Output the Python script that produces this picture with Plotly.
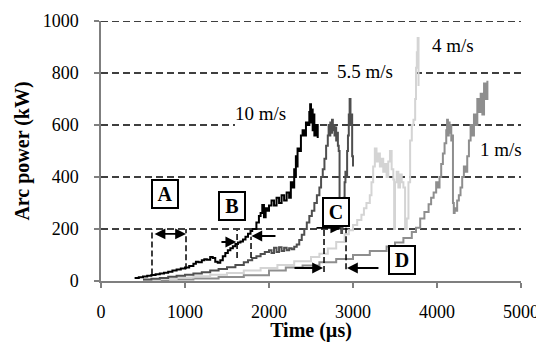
import plotly.graph_objects as go

# ---------------- data ----------------
t_10 = [400, 450, 500, 550, 600, 650, 700, 750, 800, 850, 900, 950, 1000, 1050, 1100, 1130, 1160, 1200,
        1230, 1260, 1300, 1330, 1360, 1390, 1420, 1450, 1480, 1510, 1540, 1570, 1600, 1630, 1660, 1690,
        1720, 1750, 1780, 1800, 1850, 1880, 1900, 1920, 1940, 1960, 1980, 2000, 2030, 2060, 2090, 2120,
        2150, 2180, 2210, 2240, 2260, 2280, 2300, 2310, 2320, 2330, 2340, 2360, 2380, 2400, 2420, 2440,
        2460, 2480, 2490, 2500, 2510, 2520, 2530, 2540, 2560, 2580]
p_10 = [12, 14, 17, 20, 23, 26, 29, 32, 36, 40, 44, 48, 52, 58, 66, 74, 72, 80,
        84, 82, 92, 88, 74, 70, 80, 95, 108, 118, 126, 134, 142, 148, 152, 160,
        170, 182, 192, 200, 225, 250, 262, 292, 245, 280, 270, 290, 310, 290, 320, 300,
        330, 310, 340, 320, 380, 360, 430, 400, 480, 440, 510, 500, 560, 580, 560, 610,
        600, 650, 680, 610, 660, 580, 640, 560, 600, 550]

t_55 = [500, 600, 700, 800, 900, 1000, 1100, 1200, 1300, 1400, 1500, 1600, 1700, 1750, 1800, 1850,
        1900, 1950, 2000, 2030, 2060, 2090, 2120, 2150, 2180, 2210, 2240, 2270, 2300, 2330, 2360, 2390,
        2420, 2450, 2480, 2510, 2540, 2570, 2600, 2620, 2640, 2660, 2680, 2700, 2710, 2720, 2730, 2740,
        2750, 2760, 2770, 2780, 2790, 2800, 2810, 2820, 2830, 2840, 2850, 2860, 2870, 2880, 2890, 2900,
        2910, 2920, 2930, 2940, 2950, 2960, 2970, 2980, 2990, 3000]
p_55 = [6, 9, 12, 16, 20, 24, 29, 34, 40, 46, 53, 62, 72, 80, 88, 95,
        104, 112, 118, 108, 128, 112, 130, 115, 128, 118, 126, 122, 132, 140, 158, 178,
        200, 225, 250, 270, 300, 330, 360, 400, 430, 470, 520, 560, 600, 560, 610, 570,
        620, 580, 600, 560, 590, 540, 570, 520, 500, 300, 200, 185, 210, 260, 320, 380,
        420, 400, 500, 560, 640, 700, 600, 640, 480, 440]

t_4 = [500, 700, 900, 1100, 1300, 1500, 1700, 1900, 2100, 2300, 2500, 2600, 2700, 2800, 2900, 2950,
       3000, 3050, 3100, 3130, 3160, 3200, 3220, 3240, 3260, 3280, 3300, 3320, 3340, 3360, 3380, 3400,
       3420, 3440, 3460, 3480, 3490, 3500, 3520, 3540, 3560, 3580, 3600, 3620, 3640, 3660, 3680, 3700,
       3720, 3740, 3750, 3760, 3770, 3780]
p_4 = [4, 8, 13, 18, 24, 31, 40, 50, 62, 76, 92, 105, 125, 150, 180, 195,
       215, 235, 255, 280, 300, 330, 380, 440, 510, 460, 490, 440, 470, 420, 450, 400,
       460, 500, 430, 390, 200, 380, 420, 360, 410, 380, 360, 200, 240, 380, 540, 600,
       620, 700, 820, 880, 935, 750]

t_1 = [500, 800, 1100, 1400, 1700, 2000, 2200, 2400, 2600, 2800, 3000, 3200, 3400, 3500, 3600, 3700,
       3750, 3800, 3850, 3900, 3930, 3960, 3990, 4010, 4030, 4050, 4070, 4090, 4110, 4120, 4130, 4140,
       4150, 4160, 4170, 4180, 4190, 4200, 4210, 4220, 4240, 4260, 4280, 4300, 4320, 4340, 4360, 4380,
       4400, 4420, 4440, 4460, 4480, 4500, 4520, 4540, 4560, 4580, 4600]
p_1 = [3, 6, 10, 15, 22, 40, 52, 60, 72, 85, 100, 115, 133, 148, 165, 188,
       205, 240, 265, 295, 320, 340, 380, 360, 400, 450, 490, 530, 580, 620, 560, 610,
       570, 600, 540, 560, 300, 262, 280, 270, 310, 330, 360, 400, 440, 420, 480, 540,
       600, 560, 640, 600, 700, 650, 720, 640, 760, 700, 770]

x_ticks = [0, 1000, 2000, 3000, 4000, 5000]
y_ticks = [0, 200, 400, 600, 800, 1000]

series = [
    ("1 m/s", t_1, p_1, "#8e8e8e"),
    ("4 m/s", t_4, p_4, "#d4d4d4"),
    ("5.5 m/s", t_55, p_55, "#4f4f4f"),
    ("10 m/s", t_10, p_10, "#000000"),
]

labels = [("10 m/s", 1900, 645), ("5.5 m/s", 3140, 804), ("4 m/s", 4190, 905), ("1 m/s", 4760, 505)]
boxes = [("A", 762, 335), ("B", 1560, 288), ("C", 2795, 267), ("D", 3583, 81)]

grid_segments = {200: [(0, 5000)], 400: [(0, 5000)], 600: [(0, 1595), (2607, 5000)],
                 800: [(0, 2750), (3738, 5000)], 1000: [(0, 5000)]}

FONT = "Liberation Serif"

fig = go.Figure()
for name, t, p, c in series:
    fig.add_trace(go.Scatter(x=t, y=p, mode="lines", name=name,
                             line=dict(color=c, width=2, shape="hv"), showlegend=False))

for gy, segs in grid_segments.items():
    for xa, xb in segs:
        fig.add_shape(type="line", x0=xa, x1=xb, y0=gy, y1=gy, layer="below",
                      line=dict(color="black", width=1.3, dash="7px,4px"))

guides = [(607, 25, 200), (1012, 45, 200), (1620, 88, 196), (1786, 88, 170),
          (2655, 35, 205), (2917, 45, 205)]
for gx, y0, y1 in guides:
    fig.add_shape(type="line", x0=gx, x1=gx, y0=y0, y1=y1,
                  line=dict(color="black", width=1.5, dash="6px,3px"))

arrows = [(1012, 181, 620, "end+start"), (1610, 150, 1416, "end"), (1790, 173, 2095, "end"),
          (2860, 204, 2548, "end"), (2643, 50, 2286, "end"), (2929, 50, 3321, "end")]
for xh, yy, xt, side in arrows:
    fig.add_annotation(x=xh, y=yy, ax=xt, ay=yy, axref="x", ayref="y", xref="x", yref="y",
                       text="", showarrow=True, arrowhead=2, arrowsize=1.2, arrowwidth=1.8,
                       arrowcolor="black", arrowside=side, standoff=0, startstandoff=0)

for txt, lx, ly in labels:
    fig.add_annotation(x=lx, y=ly, text=txt, showarrow=False,
                       font=dict(family=FONT, size=19, color="black"))

for txt, bx, by in boxes:
    fig.add_annotation(x=bx, y=by, text="<b>%s</b>" % txt, showarrow=False,
                       font=dict(family=FONT, size=20, color="black"),
                       bgcolor="white", bordercolor="black", borderwidth=2, borderpad=2,
                       width=20, height=22)

# page body has an 8px margin: figure sized so it fits the 544x350 window exactly
fig.update_layout(
    width=536, height=334,
    margin=dict(l=93, r=23, t=13, b=61, autoexpand=False),
    paper_bgcolor="white", plot_bgcolor="white",
    font=dict(family=FONT, size=18, color="black"),
    xaxis=dict(range=[0, 5000], tickvals=x_ticks, showgrid=False, zeroline=False, automargin=False,
               showline=True, linecolor="#7f7f7f", linewidth=1.5,
               ticks="outside", ticklen=5, tickcolor="#7f7f7f", tickwidth=1.5,
               ticklabelstandoff=9, tickfont=dict(family=FONT, size=18),
               title=dict(text="<b>Time (µs)</b>", font=dict(family=FONT, size=20), standoff=6)),
    yaxis=dict(range=[0, 1000], tickvals=y_ticks, showgrid=False, zeroline=False, automargin=False,
               showline=True, linecolor="#7f7f7f", linewidth=1.5,
               ticks="outside", ticklen=5, tickcolor="#7f7f7f", tickwidth=1.5,
               ticklabelstandoff=12, tickfont=dict(family=FONT, size=18),
               title=dict(text="<b>Arc power (kW)</b>", font=dict(family=FONT, size=20), standoff=8)),
)

fig.write_html("out.html")
